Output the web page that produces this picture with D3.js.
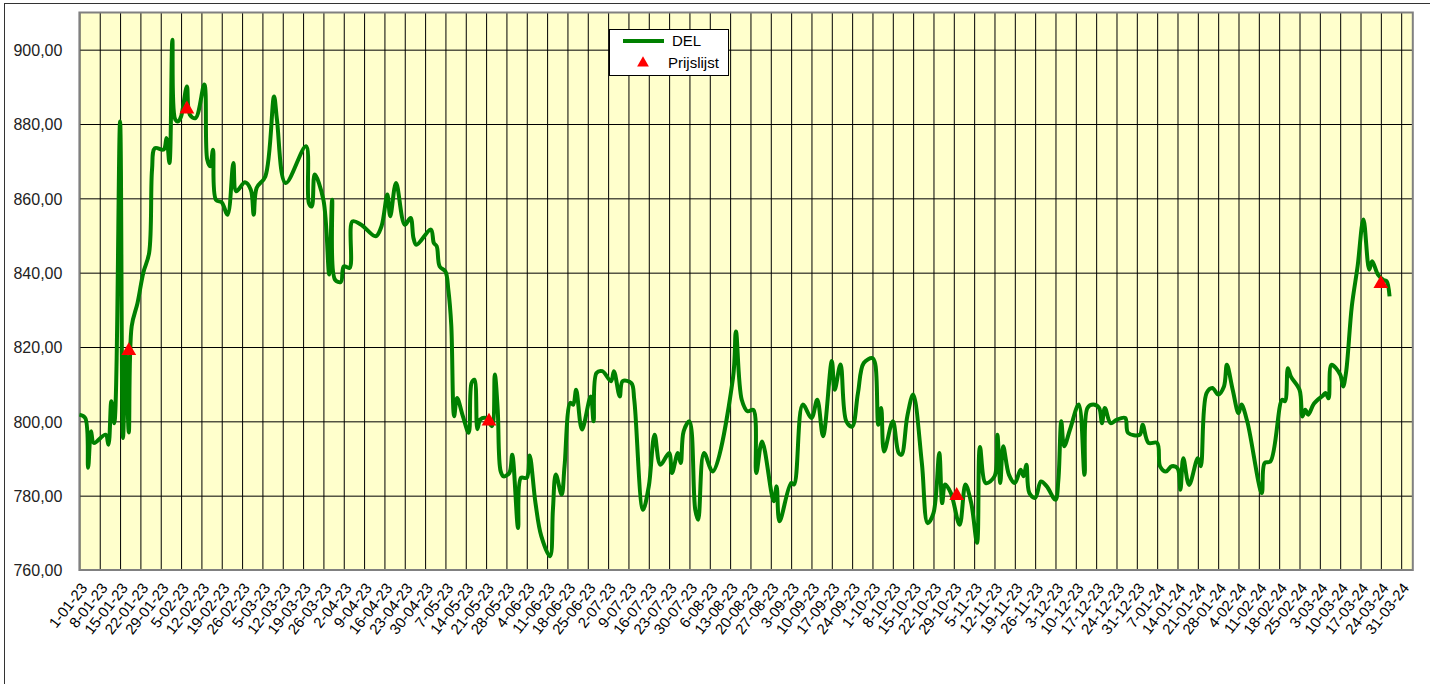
<!DOCTYPE html>
<html>
<head>
<meta charset="utf-8">
<script src="https://cdn.jsdelivr.net/npm/d3@7"></script>
<style>
  body { margin: 0; background: #fff; }
  svg { display: block; font-family: "Liberation Sans", Arial, sans-serif; }
</style>
</head>
<body>
<div id="chart"></div>
<script>
// DEL daily prices
var dates = [
  "2023-01-01","2023-01-03","2023-01-04","2023-01-05","2023-01-06","2023-01-10","2023-01-11","2023-01-12","2023-01-13","2023-01-15",
  "2023-01-16","2023-01-17","2023-01-18","2023-01-19","2023-01-21","2023-01-23","2023-01-25","2023-01-26","2023-01-27","2023-01-30",
  "2023-01-31","2023-02-01","2023-02-02","2023-02-03","2023-02-04","2023-02-05","2023-02-07","2023-02-08","2023-02-10","2023-02-13",
  "2023-02-14","2023-02-15","2023-02-16","2023-02-17","2023-02-19","2023-02-21","2023-02-23","2023-02-24","2023-02-27","2023-03-01",
  "2023-03-02","2023-03-03","2023-03-06","2023-03-09","2023-03-10","2023-03-13","2023-03-20","2023-03-21","2023-03-22","2023-03-23",
  "2023-03-26","2023-03-28","2023-03-29","2023-03-30","2023-04-01","2023-04-02","2023-04-04","2023-04-05","2023-04-08","2023-04-13",
  "2023-04-15","2023-04-17","2023-04-18","2023-04-20","2023-04-23","2023-04-25","2023-04-26","2023-04-27","2023-05-02","2023-05-03",
  "2023-05-04","2023-05-05","2023-05-07","2023-05-08","2023-05-09","2023-05-10","2023-05-11","2023-05-13","2023-05-15","2023-05-16",
  "2023-05-17","2023-05-18","2023-05-19","2023-05-21","2023-05-23","2023-05-24","2023-05-25","2023-05-26","2023-05-27","2023-05-29",
  "2023-05-30","2023-06-01","2023-06-02","2023-06-04","2023-06-05","2023-06-07","2023-06-09","2023-06-12","2023-06-13","2023-06-14",
  "2023-06-16","2023-06-17","2023-06-19","2023-06-20","2023-06-21","2023-06-23","2023-06-26","2023-06-27","2023-06-28","2023-06-30",
  "2023-07-03","2023-07-04","2023-07-06","2023-07-07","2023-07-10","2023-07-11","2023-07-14","2023-07-16","2023-07-18","2023-07-20",
  "2023-07-23","2023-07-24","2023-07-26","2023-07-27","2023-07-28","2023-07-30","2023-08-01","2023-08-02","2023-08-04","2023-08-07",
  "2023-08-14","2023-08-15","2023-08-17","2023-08-19","2023-08-21","2023-08-22","2023-08-24","2023-08-28","2023-08-29","2023-08-30",
  "2023-09-03","2023-09-04","2023-09-07","2023-09-10","2023-09-12","2023-09-14","2023-09-17","2023-09-18","2023-09-20","2023-09-22",
  "2023-09-24","2023-09-26","2023-09-28","2023-10-01","2023-10-02","2023-10-03","2023-10-04","2023-10-05","2023-10-08","2023-10-10",
  "2023-10-11","2023-10-13","2023-10-15","2023-10-18","2023-10-20","2023-10-22","2023-10-24","2023-10-25","2023-10-26","2023-10-28",
  "2023-10-31","2023-11-02","2023-11-04","2023-11-06","2023-11-07","2023-11-09","2023-11-12","2023-11-13","2023-11-14","2023-11-15",
  "2023-11-17","2023-11-19","2023-11-21","2023-11-22","2023-11-23","2023-11-24","2023-11-26","2023-11-28","2023-11-30","2023-12-03",
  "2023-12-04","2023-12-05","2023-12-06","2023-12-08","2023-12-11","2023-12-13","2023-12-14","2023-12-16","2023-12-18","2023-12-19",
  "2023-12-20","2023-12-22","2023-12-24","2023-12-27","2023-12-28","2024-01-01","2024-01-02","2024-01-04","2024-01-07","2024-01-08",
  "2024-01-10","2024-01-12","2024-01-14","2024-01-15","2024-01-16","2024-01-18","2024-01-21","2024-01-22","2024-01-24","2024-01-26",
  "2024-01-28","2024-01-30","2024-01-31","2024-02-02","2024-02-04","2024-02-05","2024-02-07","2024-02-12","2024-02-13","2024-02-15",
  "2024-02-19","2024-02-20","2024-02-21","2024-02-22","2024-02-25","2024-02-26","2024-02-27","2024-02-28","2024-03-01","2024-03-04",
  "2024-03-05","2024-03-06","2024-03-07","2024-03-10","2024-03-11","2024-03-12","2024-03-14","2024-03-16","2024-03-18","2024-03-20",
  "2024-03-21","2024-03-23","2024-03-25","2024-03-26","2024-03-27"
];
var values = [
  801.8,800.9,787.5,797.3,794.2,796.4,793.7,805.4,799.5,880.7,
  795.5,818.0,797.0,825.6,831.8,840.0,845.3,867.7,873.5,873.1,
  876.2,869.5,902.7,881.2,880.7,882.0,890.1,882.5,881.6,890.6,
  870.4,868.6,873.1,859.6,858.9,855.6,869.5,861.9,864.3,862.3,
  855.6,862.8,865.9,887.4,881.2,864.1,874.0,858.7,857.8,866.4,
  859.6,839.5,859.6,838.1,837.5,841.7,841.3,853.8,852.9,849.8,
  852.5,861.0,855.2,864.1,852.9,854.7,849.3,847.5,851.6,848.0,
  847.1,841.7,840.3,835.4,826.0,801.4,806.3,801.4,796.9,810.3,
  811.2,797.9,800.5,800.9,798.7,812.6,803.1,786.6,785.2,786.1,
  791.0,771.3,784.8,784.8,790.8,778.0,769.1,763.7,776.2,785.7,
  780.3,787.9,805.0,804.5,808.5,797.8,806.7,800.0,813.0,813.5,
  810.8,813.5,806.7,810.8,810.3,805.8,776.2,782.5,796.4,788.3,
  791.5,786.1,791.5,788.8,797.3,800.0,776.2,773.5,791.5,786.5,
  811.7,824.2,805.8,802.7,803.1,786.1,794.6,778.5,782.5,773.1,
  783.4,783.0,804.5,800.9,805.8,796.0,816.2,808.5,815.3,800.0,
  798.6,807.6,815.7,817.0,815.2,799.1,803.6,791.9,800.0,791.5,
  791.0,801.4,807.2,788.8,772.6,775.3,791.5,778.0,783.0,780.7,
  772.2,783.0,778.0,767.3,793.1,783.4,785.2,796.4,783.4,793.3,
  785.6,783.4,787.0,785.2,788.3,780.7,779.4,783.8,782.5,778.9,
  784.3,800.0,793.3,797.8,804.5,785.6,803.6,804.5,803.6,799.5,
  803.6,799.5,800.4,800.9,796.9,796.4,799.1,794.2,794.2,787.9,
  786.5,787.9,787.4,781.6,790.1,782.9,790.1,787.9,807.6,809.0,
  807.2,809.4,815.2,808.5,802.2,804.5,800.0,780.7,788.8,789.2,
  805.8,805.4,814.3,812.1,808.5,801.3,803.1,801.8,804.8,806.9,
  807.6,806.2,815.2,812.6,809.4,813.0,830.9,841.7,854.3,840.8,
  843.1,839.5,838.0,837.7,833.6
];

// Prijslijst points
var markerDates = ["2023-01-18","2023-02-07","2023-05-22","2023-10-30","2024-03-24"];
var markerValues = [819.0, 884.0, 800.0, 780.0, 837.0];

var yTicks = [760, 780, 800, 820, 840, 860, 880, 900];
var seriesNames = ["DEL", "Prijslijst"];

var W = 1430, H = 684;
var margin = {top: 12.5, right: 17.2, bottom: 114, left: 79.4},
    width = W - margin.left - margin.right,
    height = H - margin.top - margin.bottom;

var parse = d3.timeParse("%Y-%m-%d");
var data = dates.map(function(d, i){ return {date: parse(d), value: values[i]}; });
var marks = markerDates.map(function(d, i){ return {date: parse(d), value: markerValues[i]}; });

var svg = d3.select("#chart")
            .append("svg")
            .attr("width", W)
            .attr("height", H);

// chart area frame (runs off the right and bottom edge)
svg.append("rect")
   .attr("x", 4.5).attr("y", 3.5)
   .attr("width", 1600).attr("height", 900)
   .attr("fill", "#fff")
   .attr("stroke", "#333")
   .attr("stroke-width", 1);

var g = svg.append("g")
           .attr("transform", "translate(" + margin.left + "," + margin.top + ")");

g.append("rect")
 .attr("width", width).attr("height", height)
 .attr("fill", "#ffffcc");

var x = d3.scaleTime()
          .domain([parse("2023-01-01"), parse("2024-04-04")])
          .range([0, width]);

var y = d3.scaleLinear()
          .domain([760, 910])
          .range([height, 0]);

var nl = d3.formatLocale({decimal: ",", thousands: ".", grouping: [3], currency: ["", ""]});

// Y axis + horizontal grid
var yAxis = g.append("g")
   .call(d3.axisLeft(y).tickValues(yTicks).tickFormat(nl.format(".2f"))
          .tickSize(-width).tickPadding(17));
yAxis.select(".domain").remove();
yAxis.selectAll("line").attr("stroke", "#000");
yAxis.selectAll("text")
     .style("font-size", "16px")
     .attr("fill", "#222")
     .attr("dy", "0.36em");

// X axis + vertical grid
var xAxis = g.append("g")
   .attr("transform", "translate(0," + height + ")")
   .call(d3.axisBottom(x).ticks(d3.timeWeek.every(1))
          .tickFormat(d3.timeFormat("%-d-%m-%y"))
          .tickSize(-height).tickSizeOuter(0));
xAxis.select(".domain").remove();
xAxis.selectAll("line").attr("stroke", "#000");
xAxis.selectAll("text")
     .style("font-size", "15px")
     .attr("fill", "#000")
     .attr("text-anchor", "end")
     .attr("x", 0).attr("y", 0).attr("dy", "0.35em")
     .attr("transform", "translate(4,15) rotate(-52)");

// plot border
g.append("rect")
 .attr("width", width).attr("height", height)
 .attr("fill", "none")
 .attr("stroke", "#808080")
 .attr("stroke-width", 2);

var line = d3.line()
             .x(function(d){ return x(d.date); })
             .y(function(d){ return y(d.value); })
             .curve(d3.curveCatmullRom.alpha(0.5));

g.append("path")
 .attr("d", line(data))
 .attr("fill", "none")
 .attr("stroke", "#008000")
 .attr("stroke-width", 4)
 .attr("stroke-linejoin", "round");

var tri = d3.symbol().type(d3.symbolTriangle).size(95);

g.selectAll(".mark")
 .data(marks)
 .enter().append("path")
 .attr("class", "mark")
 .attr("d", tri)
 .attr("transform", function(d){ return "translate(" + x(d.date) + "," + y(d.value) + ")"; })
 .attr("fill", "#ff0000");

// legend
var lg = svg.append("g").attr("transform", "translate(609,29)");
lg.append("rect")
  .attr("x", 0.5).attr("y", 0.5)
  .attr("width", 119).attr("height", 46)
  .attr("fill", "#fff")
  .attr("stroke", "#000");
lg.append("line")
  .attr("x1", 14).attr("x2", 55)
  .attr("y1", 12).attr("y2", 12)
  .attr("stroke", "#008000").attr("stroke-width", 4);
lg.append("text")
  .attr("x", 63).attr("y", 17)
  .style("font-size", "15px")
  .text(seriesNames[0]);
lg.append("path")
  .attr("d", d3.symbol().type(d3.symbolTriangle).size(60))
  .attr("transform", "translate(34,34)")
  .attr("fill", "#ff0000");
lg.append("text")
  .attr("x", 59).attr("y", 39)
  .style("font-size", "15px")
  .text(seriesNames[1]);
</script>
</body>
</html>
